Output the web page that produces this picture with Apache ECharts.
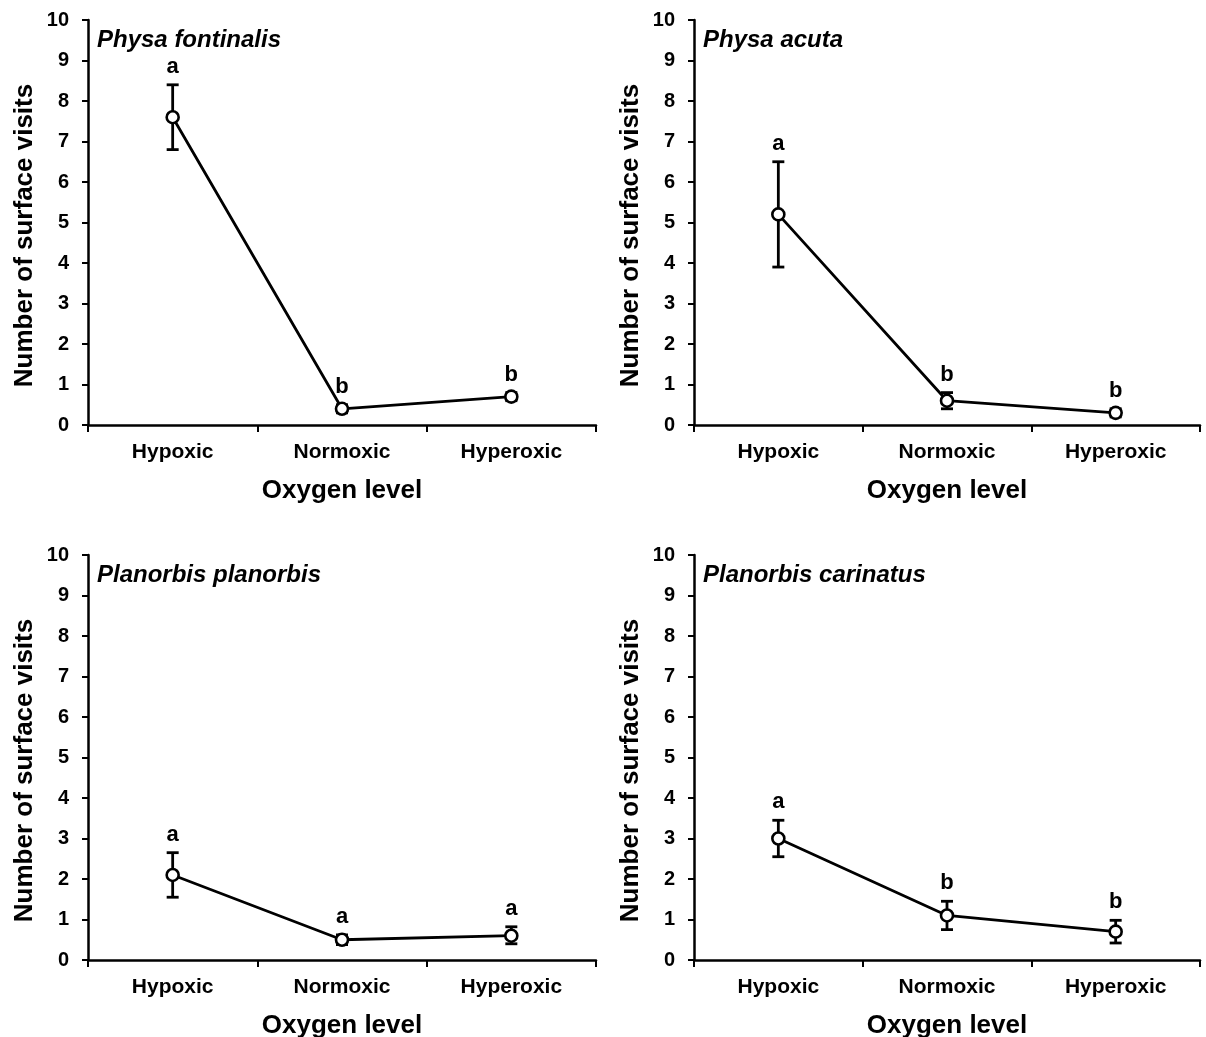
<!DOCTYPE html>
<html><head><meta charset="utf-8">
<script src="https://cdn.jsdelivr.net/npm/echarts@6/dist/echarts.min.js"></script>
<style>html,body{margin:0;padding:0;background:#fff}#c{width:1206px;height:1037px}</style>
</head><body><div id="c"></div>
<script>
// ---- data ----
const categories = ['Hypoxic', 'Normoxic', 'Hyperoxic'];
const speciesNames = ['Physa fontinalis', 'Physa acuta', 'Planorbis planorbis', 'Planorbis carinatus'];

const meanFontinalis = [7.6, 0.4, 0.7];
const lowFontinalis  = [6.8, 0.3, 0.6];
const highFontinalis = [8.4, 0.5, 0.8];
const lettersFontinalis = ['a', 'b', 'b'];

const meanAcuta = [5.2, 0.6, 0.3];
const lowAcuta  = [3.9, 0.4, 0.2];
const highAcuta = [6.5, 0.8, 0.4];
const lettersAcuta = ['a', 'b', 'b'];

const meanPlanorbis = [2.1, 0.5, 0.6];
const lowPlanorbis  = [1.55, 0.38, 0.4];
const highPlanorbis = [2.65, 0.62, 0.82];
const lettersPlanorbis = ['a', 'a', 'a'];

const meanCarinatus = [3.0, 1.1, 0.7];
const lowCarinatus  = [2.55, 0.75, 0.42];
const highCarinatus = [3.45, 1.45, 0.98];
const lettersCarinatus = ['a', 'b', 'b'];

const yMin = 0, yMax = 10, yInterval = 1;
const yAxisTitle = 'Number of surface visits';
const xAxisTitle = 'Oxygen level';

const panels = [
  { name: speciesNames[0], mean: meanFontinalis, low: lowFontinalis, high: highFontinalis, letters: lettersFontinalis },
  { name: speciesNames[1], mean: meanAcuta, low: lowAcuta, high: highAcuta, letters: lettersAcuta },
  { name: speciesNames[2], mean: meanPlanorbis, low: lowPlanorbis, high: highPlanorbis, letters: lettersPlanorbis },
  { name: speciesNames[3], mean: meanCarinatus, low: lowCarinatus, high: highCarinatus, letters: lettersCarinatus }
];

// ---- layout ----
const FONT = "'Liberation Sans', Arial, sans-serif";
const gridBoxes = [
  { left: 88, top: 20, width: 508, height: 405 },
  { left: 694, top: 20, width: 506, height: 405 },
  { left: 88, top: 555, width: 508, height: 405 },
  { left: 694, top: 555, width: 506, height: 405 }
];

const chart = echarts.init(document.getElementById('c'), null, { renderer: 'canvas' });

const grid = [], xAxis = [], yAxis = [], series = [], title = [];
panels.forEach((p, i) => {
  const g = gridBoxes[i];
  grid.push(Object.assign({ containLabel: false, outerBoundsMode: 'none' }, g));
  title.push({
    text: p.name, left: g.left + 9, top: g.top + 8, padding: 0,
    textStyle: { fontFamily: FONT, fontSize: 24, fontWeight: 'bold', fontStyle: 'italic', color: '#000' }
  });
  xAxis.push({
    type: 'category', gridIndex: i, data: categories, boundaryGap: true,
    name: xAxisTitle, nameLocation: 'middle', nameGap: 53,
    nameTextStyle: { fontFamily: FONT, fontSize: 26, fontWeight: 'bold', color: '#000' },
    axisLine: { lineStyle: { color: '#000', width: 2.5 } },
    axisTick: { show: true, length: 7, lineStyle: { color: '#000', width: 2 }, alignWithLabel: false },
    axisLabel: { fontFamily: FONT, fontSize: 21, fontWeight: 'bold', color: '#000', margin: 17 },
    splitLine: { show: false }
  });
  yAxis.push({
    type: 'value', gridIndex: i, min: yMin, max: yMax, interval: yInterval,
    name: yAxisTitle, nameLocation: 'middle', nameGap: 50,
    nameTextStyle: { fontFamily: FONT, fontSize: 26, fontWeight: 'bold', color: '#000', padding: [0, 26, 0, 0] },
    axisLine: { show: true, lineStyle: { color: '#000', width: 2.5 } },
    axisTick: { show: true, length: 6, lineStyle: { color: '#000', width: 2 } },
    axisLabel: { fontFamily: FONT, fontSize: 20, fontWeight: 'bold', color: '#000', margin: 19 },
    splitLine: { show: false }
  });
  // error bars + letters
  series.push({
    type: 'custom', xAxisIndex: i, yAxisIndex: i, z: 2,
    data: categories.map((c, k) => [k, p.low[k], p.high[k]]),
    renderItem: function (params, api) {
      const x = api.value(0);
      const lo = api.coord([x, api.value(1)]);
      const hi = api.coord([x, api.value(2)]);
      const cap = 6;
      const st = { stroke: '#000', lineWidth: 2.8 };
      return {
        type: 'group',
        children: [
          { type: 'line', shape: { x1: lo[0], y1: lo[1], x2: hi[0], y2: hi[1] }, style: st },
          { type: 'line', shape: { x1: lo[0] - cap, y1: lo[1], x2: lo[0] + cap, y2: lo[1] }, style: st },
          { type: 'line', shape: { x1: hi[0] - cap, y1: hi[1], x2: hi[0] + cap, y2: hi[1] }, style: st },
          { type: 'text', x: hi[0], y: hi[1] - 7,
            style: { text: p.letters[params.dataIndex], fill: '#000', font: "bold 22px 'Liberation Sans', Arial, sans-serif", textAlign: 'center', textVerticalAlign: 'bottom' } }
        ]
      };
    },
    silent: true
  });
  // means line
  series.push({
    type: 'line', xAxisIndex: i, yAxisIndex: i, z: 3,
    data: p.mean,
    symbol: 'circle', symbolSize: 12,
    lineStyle: { color: '#000', width: 2.8 },
    itemStyle: { color: '#fff', borderColor: '#000', borderWidth: 2.6 },
    silent: true, animation: false
  });
});

chart.setOption({
  animation: false,
  backgroundColor: '#fff',
  title, grid, xAxis, yAxis, series
});
</script>
</body></html>
